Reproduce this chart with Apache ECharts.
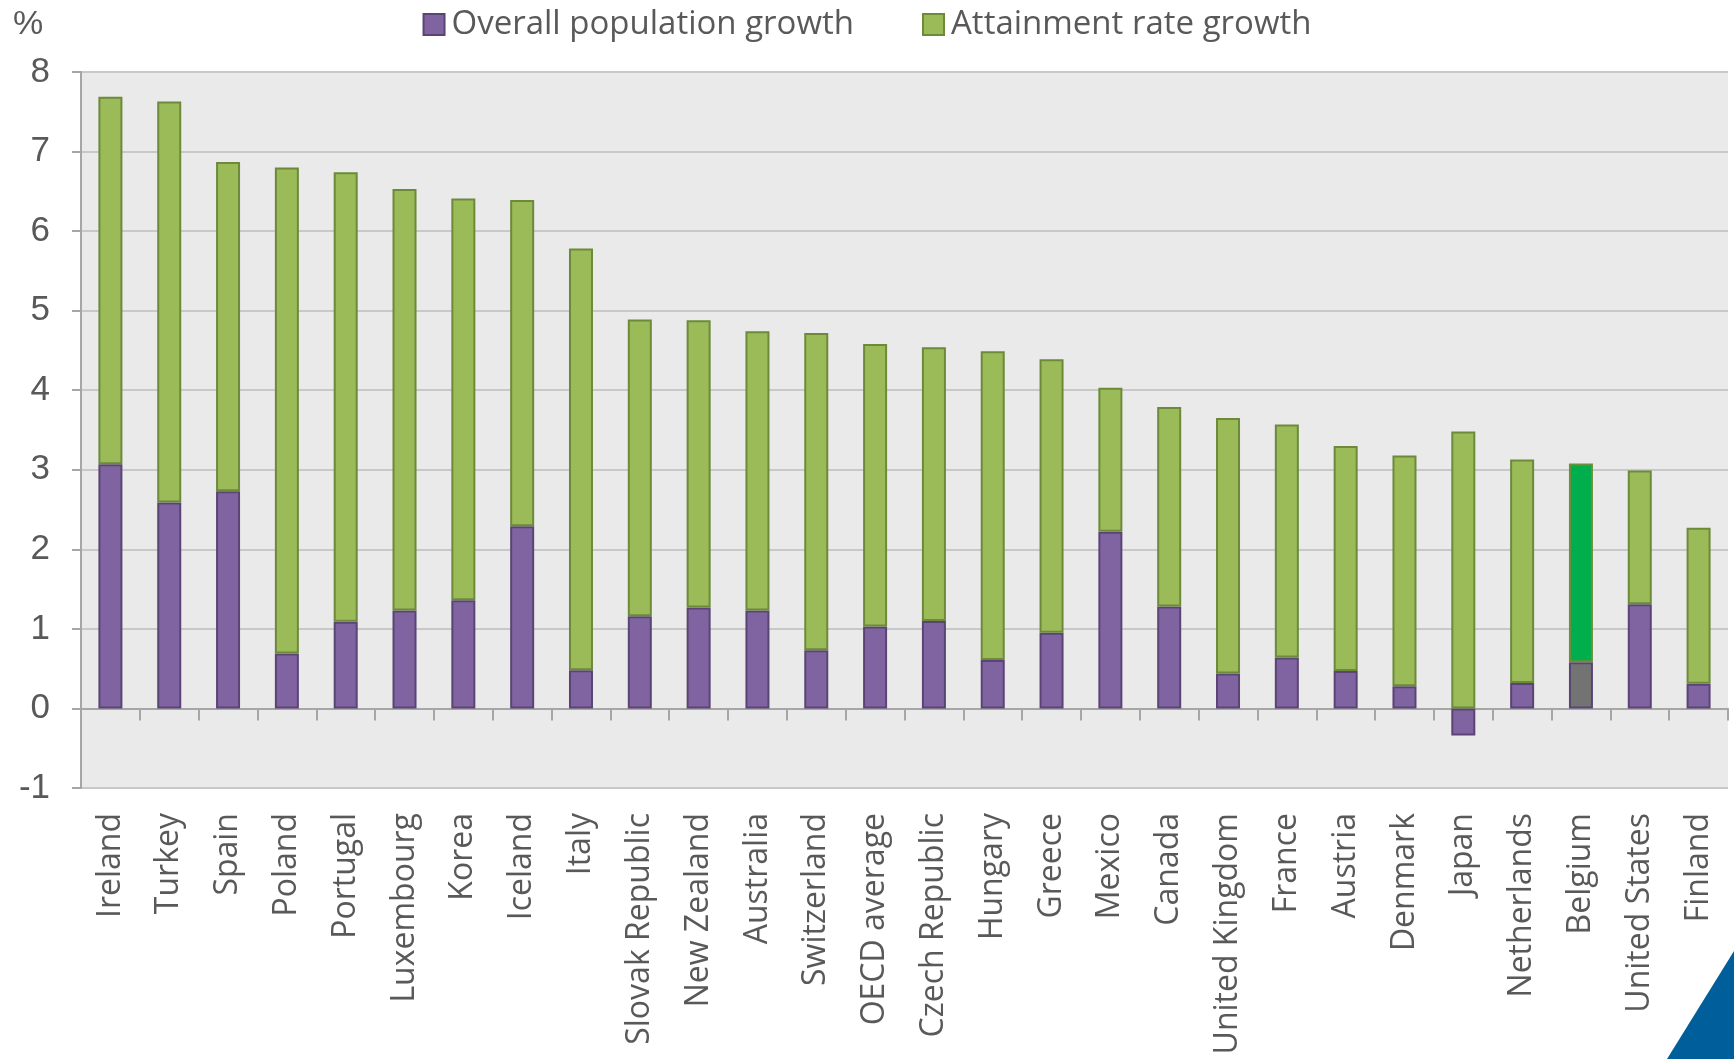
<!DOCTYPE html>
<html>
<head>
<meta charset="utf-8">
<title>Population and attainment growth</title>
<script src="https://cdn.jsdelivr.net/npm/echarts@6/dist/echarts.min.js"></script>
<style>
  html, body { margin: 0; padding: 0; background: #fff; }
  #chart { width: 1734px; height: 1059px; }
</style>
</head>
<body>
<div id="chart"></div>
<script>
const countries = ['Ireland', 'Turkey', 'Spain', 'Poland', 'Portugal', 'Luxembourg', 'Korea', 'Iceland', 'Italy',
  'Slovak Republic', 'New Zealand', 'Australia', 'Switzerland', 'OECD average', 'Czech Republic', 'Hungary',
  'Greece', 'Mexico', 'Canada', 'United Kingdom', 'France', 'Austria', 'Denmark', 'Japan', 'Netherlands',
  'Belgium', 'United States', 'Finland']

const populationGrowth = [3.07, 2.59, 2.73, 0.69, 1.09, 1.23, 1.36, 2.29, 0.48, 1.16, 1.27, 1.23, 0.73, 1.03,
  1.10, 0.61, 0.95, 2.22, 1.28, 0.44, 0.64, 0.47, 0.28, -0.34, 0.32, 0.58, 1.31, 0.31]

const attainmentGrowth = [4.62, 5.04, 4.14, 6.11, 5.65, 5.30, 5.05, 4.10, 5.30, 3.73, 3.61, 3.51, 3.99, 3.55,
  3.44, 3.88, 3.44, 1.81, 2.51, 3.21, 2.93, 2.83, 2.90, 3.48, 2.81, 2.50, 1.68, 1.96]

const yTicks = [-1, 0, 1, 2, 3, 4, 5, 6, 7, 8]

const highlight = 'Belgium'
const labelColor = '#595959'

const chart = echarts.init(document.getElementById('chart'))

const popData = populationGrowth.map((v, i) => countries[i] === highlight
  ? { value: v, itemStyle: { color: '#737373' } }
  : v)

const attData = attainmentGrowth.map((v, i) => countries[i] === highlight
  ? { value: v, itemStyle: { color: '#00AE4D', borderColor: '#6E8F3A' } }
  : v)

const option = {
  animation: false,
  backgroundColor: '#ffffff',
  title: {
    text: '%',
    left: 8,
    top: 3,
    textStyle: { fontFamily: 'Liberation Sans', fontSize: 34, fontWeight: 'normal', color: labelColor }
  },
  legend: {
    top: 3,
    left: 'center',
    itemWidth: 21,
    itemHeight: 21,
    itemGap: 68,
    icon: 'rect',
    textStyle: { fontFamily: 'Liberation Sans Narrow, Open Sans', fontSize: 33, color: labelColor, padding: [0, 0, 0, 2] }
  },
  grid: {
    left: 81,
    right: 6,
    top: 72,
    bottom: 271,
    outerBoundsMode: 'none',
    show: true,
    backgroundColor: '#EAEAEA',
    borderWidth: 0
  },
  xAxis: {
    type: 'category',
    data: countries,
    axisLine: { onZero: true, lineStyle: { color: '#A6A6A6', width: 2 } },
    axisTick: { show: true, length: 12, lineStyle: { color: '#A6A6A6', width: 2 } },
    axisLabel: {
      rotate: 90,
      margin: 25,
      interval: 0,
      fontFamily: 'Open Sans',
      fontSize: 32,
      color: labelColor
    },
    splitLine: { show: false }
  },
  yAxis: {
    type: 'value',
    min: yTicks[0],
    max: yTicks[yTicks.length - 1],
    interval: 1,
    axisLine: { show: true, lineStyle: { color: '#A6A6A6', width: 2 } },
    axisTick: { show: true, length: 9, lineStyle: { color: '#A6A6A6', width: 2 } },
    axisLabel: {
      margin: 31,
      fontFamily: 'Liberation Sans',
      fontSize: 35,
      color: labelColor
    },
    splitLine: { lineStyle: { color: '#C8C8C8', width: 2 } }
  },
  series: [
    {
      name: 'Overall population growth',
      type: 'bar',
      stack: 'growth',
      barWidth: 24,
      data: popData,
      itemStyle: { color: '#8064A2', borderColor: '#5A4474', borderWidth: 2 }
    },
    {
      name: 'Attainment rate growth',
      type: 'bar',
      stack: 'growth',
      barWidth: 24,
      data: attData,
      itemStyle: { color: '#9BBB59', borderColor: '#6C8A3A', borderWidth: 2 }
    }
  ],
  graphic: [
    {
      type: 'polygon',
      z: 100,
      shape: { points: [[1667, 1059], [1734, 951], [1734, 1059]] },
      style: { fill: '#005F9B' }
    }
  ]
}

chart.setOption(option)
</script>
</body>
</html>
